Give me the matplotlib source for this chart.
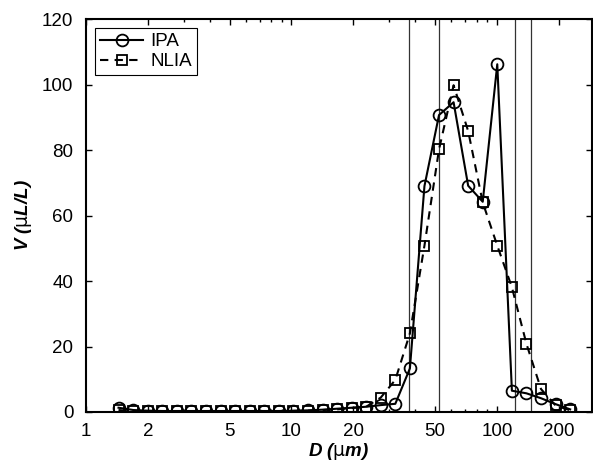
import matplotlib
matplotlib.use('Agg')
import matplotlib.pyplot as plt
from matplotlib.ticker import FixedLocator, NullFormatter, LogLocator
matplotlib.rcParams['mathtext.default'] = 'regular'
matplotlib.rcParams['font.family'] = ['Liberation Sans', 'DejaVu Sans']

# bin centres (um)
D = [1.44, 1.70, 2.00, 2.35, 2.77, 3.26, 3.84, 4.52, 5.32, 6.26,
     7.37, 8.68, 10.22, 12.03, 14.17, 16.68, 19.64, 23.12, 27.22, 32.05,
     37.74, 44.43, 52.31, 61.59, 72.52, 85.38, 100.5, 118.4, 139.4, 164.1,
     193.2, 227.5]

ipa = [1.3, 0.6, 0.4, 0.3, 0.3, 0.3, 0.3, 0.3, 0.3, 0.3,
       0.3, 0.3, 0.4, 0.5, 0.7, 1.0, 1.3, 1.6, 2.1, 2.5,
       13.3, 69.0, 90.7, 94.6, 69.1, 64.2, 106.2, 6.5, 5.7, 4.2,
       2.4, 0.8]

nlia = [0.6, 0.2, 0.2, 0.2, 0.2, 0.2, 0.2, 0.2, 0.2, 0.2,
        0.2, 0.2, 0.3, 0.4, 0.6, 0.8, 1.2, 1.6, 4.4, 9.8,
        24.0, 50.8, 80.2, 99.8, 85.8, 64.0, 50.8, 38.1, 20.8, 7.0,
        2.0, 0.5]

vlines = [37.5, 52.3, 123.0, 147.0]

xticks = [1, 2, 5, 10, 20, 50, 100, 200]
yticks = [0, 20, 40, 60, 80, 100, 120]

fig = plt.figure(figsize=(5.93, 4.65), dpi=100)
ax = fig.add_axes([0.145, 0.114, 0.853, 0.845])

for v in vlines:
    ax.axvline(v, color='#333333', lw=0.9, zorder=1)

ax.plot(D, ipa, 'k-', marker='o', ms=8.5, mfc='none', mew=1.3, lw=1.5, label='IPA', zorder=3)
ax.plot(D, nlia, 'k--', marker='s', ms=6.5, mfc='none', mew=1.3, lw=1.5,
        dashes=(4, 3), label='NLIA', zorder=2)

ax.set_xscale('log')
ax.set_xlim(1, 290)
ax.set_ylim(0, 120)
ax.xaxis.set_major_locator(FixedLocator(xticks))
ax.set_xticklabels([str(t) for t in xticks])
ax.xaxis.set_minor_locator(LogLocator(base=10, subs=[3, 4, 6, 7, 8, 9]))
ax.xaxis.set_minor_formatter(NullFormatter())
ax.set_yticks(yticks)

ax.tick_params(which='both', direction='in', top=True, right=True, labelsize=13.5, width=1)
ax.tick_params(which='major', length=4)
ax.tick_params(which='minor', length=2.5)
ax.tick_params(axis='x', which='major', pad=8)
ax.tick_params(axis='y', which='major', pad=9)
for s in ax.spines.values():
    s.set_linewidth(1.5)

ax.set_xlabel(r'D ($\mathrm{\mu}$m)', fontsize=13.5, fontweight='bold', style='italic', labelpad=1)
ax.set_ylabel(r'V ($\mathrm{\mu}$L/L)', fontsize=13.5, fontweight='bold', style='italic', labelpad=6)

leg = ax.legend(loc='upper left', fontsize=13.5, fancybox=False, framealpha=1,
                edgecolor='black', handlelength=2.3, handletextpad=0.4,
                borderpad=0.25, labelspacing=0.15, borderaxespad=0.5)
leg.get_frame().set_linewidth(0.8)

plt.savefig('out.png', dpi=100)
